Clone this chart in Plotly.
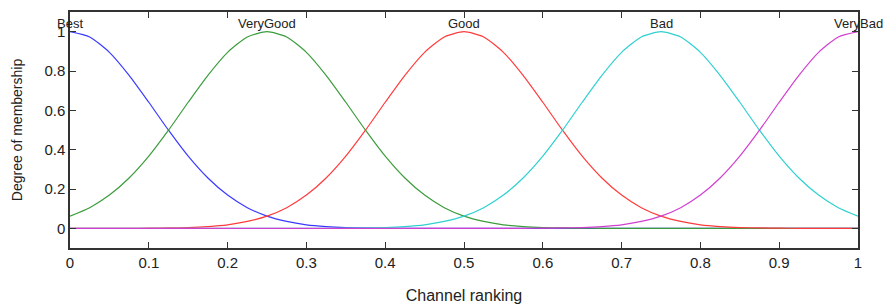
import numpy as np
import plotly.graph_objects as go

# x grid (Channel ranking), step 0.025
x_vals = np.linspace(0, 1, 41)

mf_names = ["Best", "VeryGood", "Good", "Bad", "VeryBad"]
mf_centers = [0.0, 0.25, 0.5, 0.75, 1.0]

best = [1.0, 0.973, 0.895, 0.778, 0.641, 0.499, 0.367, 0.256, 0.169, 0.105,
        0.062, 0.035, 0.018, 0.009, 0.004, 0.002, 0.001, 0, 0, 0,
        0, 0, 0, 0, 0, 0, 0, 0, 0, 0,
        0, 0, 0, 0, 0, 0, 0, 0, 0, 0, 0]
very_good = [0.062, 0.105, 0.169, 0.256, 0.367, 0.499, 0.641, 0.778, 0.895, 0.973,
             1.0, 0.973, 0.895, 0.778, 0.641, 0.499, 0.367, 0.256, 0.169, 0.105,
             0.062, 0.035, 0.018, 0.009, 0.004, 0.002, 0.001, 0, 0, 0,
             0, 0, 0, 0, 0, 0, 0, 0, 0, 0, 0]
good = [0, 0, 0, 0, 0.001, 0.002, 0.004, 0.009, 0.018, 0.035,
        0.062, 0.105, 0.169, 0.256, 0.367, 0.499, 0.641, 0.778, 0.895, 0.973,
        1.0, 0.973, 0.895, 0.778, 0.641, 0.499, 0.367, 0.256, 0.169, 0.105,
        0.062, 0.035, 0.018, 0.009, 0.004, 0.002, 0.001, 0, 0, 0, 0]
bad = [0, 0, 0, 0, 0, 0, 0, 0, 0, 0,
       0, 0, 0, 0, 0.001, 0.002, 0.004, 0.009, 0.018, 0.035,
       0.062, 0.105, 0.169, 0.256, 0.367, 0.499, 0.641, 0.778, 0.895, 0.973,
       1.0, 0.973, 0.895, 0.778, 0.641, 0.499, 0.367, 0.256, 0.169, 0.105, 0.062]
very_bad = [0, 0, 0, 0, 0, 0, 0, 0, 0, 0,
            0, 0, 0, 0, 0, 0, 0, 0, 0, 0,
            0, 0, 0, 0, 0.001, 0.002, 0.004, 0.009, 0.018, 0.035,
            0.062, 0.105, 0.169, 0.256, 0.367, 0.499, 0.641, 0.778, 0.895, 0.973, 1.0]

series = [best, very_good, good, bad, very_bad]
colors = ["#3a3aff", "#3c9c3c", "#ff3c3c", "#30d0d0", "#d040d0"]

x_ticks = [0, 0.1, 0.2, 0.3, 0.4, 0.5, 0.6, 0.7, 0.8, 0.9, 1]
x_tick_text = ["0", "0.1", "0.2", "0.3", "0.4", "0.5", "0.6", "0.7", "0.8", "0.9", "1"]
y_ticks = [0, 0.2, 0.4, 0.6, 0.8, 1]
y_tick_text = ["0", "0.2", "0.4", "0.6", "0.8", "1"]

fig = go.Figure()
for name, ys, col in zip(mf_names, series, colors):
    fig.add_trace(go.Scatter(x=x_vals, y=ys, mode="lines", name=name,
                             line=dict(color=col, width=1.2, shape="spline", smoothing=0.6),
                             cliponaxis=False, showlegend=False))

for name, c in zip(mf_names, mf_centers):
    fig.add_annotation(x=c, y=1.0, text=name, showarrow=False, xanchor="center",
                       yanchor="bottom", yshift=-1,
                       font=dict(family="Liberation Sans, Arial", size=13, color="#222"))

axis_common = dict(showline=True, linecolor="#333", linewidth=1.5, mirror="ticks",
                   ticks="inside", ticklen=6, tickcolor="#333", tickwidth=1.2,
                   showgrid=False, zeroline=False, automargin=False,
                   tickfont=dict(family="Liberation Sans, Arial", size=15, color="#222"))

fig.update_xaxes(range=[0, 1], tickvals=x_ticks, ticktext=x_tick_text,
                 title=dict(text="Channel ranking", standoff=20,
                            font=dict(family="Liberation Sans, Arial", size=16, color="#222")),
                 **axis_common)
fig.update_yaxes(range=[-0.1, 1.1], tickvals=y_ticks, ticktext=y_tick_text,
                 title=dict(text="Degree of membership", standoff=18,
                            font=dict(family="Liberation Sans, Arial", size=14, color="#222")),
                 **axis_common)

fig.update_layout(width=885, height=307, margin=dict(l=70, r=27, t=12, b=59),
                  plot_bgcolor="white", paper_bgcolor="white")

fig.write_html("out.html", config={"displayModeBar": False},
               post_script="document.body.style.margin='0';document.body.style.overflow='hidden';")
